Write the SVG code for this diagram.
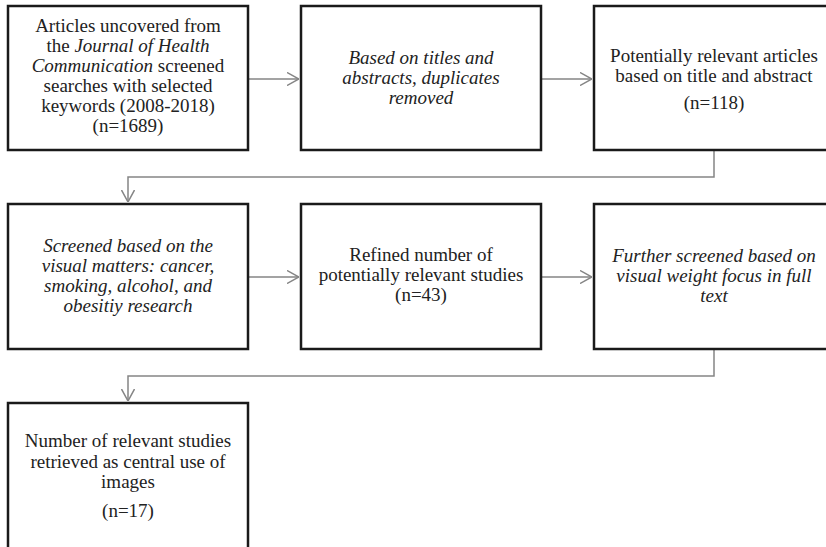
<svg xmlns="http://www.w3.org/2000/svg" width="826" height="547" viewBox="0 0 826 547">
<style>
  .box { fill: #ffffff; stroke: #1a1a1a; stroke-width: 2.5; }
  .t { font-family: "Liberation Serif", "Times New Roman", serif; font-size: 19px; fill: #222222; text-anchor: middle; }
  .i { font-style: italic; }
  .conn { fill: none; stroke: #858585; stroke-width: 1.5; }
</style>
<defs>
  <marker id="arr" viewBox="0 0 12 14" refX="12" refY="7" markerWidth="12" markerHeight="14" markerUnits="userSpaceOnUse" orient="auto">
    <path d="M0,0.5 L12,7 L0,13.5" fill="none" stroke="#858585" stroke-width="1.5"/>
  </marker>
</defs>
<rect width="826" height="547" fill="#ffffff"/>

<g id="connectors">
  <path class="conn" d="M248,79 H299" marker-end="url(#arr)"/>
  <path class="conn" d="M541,79 H592" marker-end="url(#arr)"/>
  <path class="conn" d="M714,150 V177 H128 V202" marker-end="url(#arr)"/>
  <path class="conn" d="M248,277 H299" marker-end="url(#arr)"/>
  <path class="conn" d="M541,277 H592" marker-end="url(#arr)"/>
  <path class="conn" d="M714,349 V376 H128 V401" marker-end="url(#arr)"/>
</g>

<g id="n1">
  <rect class="box" x="8" y="6" width="240" height="144"/>
  <text class="t" x="128" y="32">Articles uncovered from</text>
  <text class="t" x="128" y="52">the <tspan class="i">Journal of Health</tspan></text>
  <text class="t" x="128" y="72"><tspan class="i">Communication</tspan> screened</text>
  <text class="t" x="128" y="92">searches with selected</text>
  <text class="t" x="128" y="112">keywords (2008-2018)</text>
  <text class="t" x="128" y="132">(n=1689)</text>
</g>

<g id="n2">
  <rect class="box" x="301" y="6" width="240" height="144"/>
  <text class="t i" x="421" y="64">Based on titles and</text>
  <text class="t i" x="421" y="84">abstracts, duplicates</text>
  <text class="t i" x="421" y="104">removed</text>
</g>

<g id="n3">
  <rect class="box" x="594" y="6" width="240" height="144"/>
  <text class="t" x="714" y="62">Potentially relevant articles</text>
  <text class="t" x="714" y="82">based on title and abstract</text>
  <text class="t" x="714" y="109">(n=118)</text>
</g>

<g id="n4">
  <rect class="box" x="8" y="204" width="240" height="145"/>
  <text class="t i" x="128" y="252">Screened based on the</text>
  <text class="t i" x="128" y="272">visual matters: cancer,</text>
  <text class="t i" x="128" y="292">smoking, alcohol, and</text>
  <text class="t i" x="128" y="312">obesitiy research</text>
</g>

<g id="n5">
  <rect class="box" x="301" y="204" width="240" height="145"/>
  <text class="t" x="421" y="261">Refined number of</text>
  <text class="t" x="421" y="281">potentially relevant studies</text>
  <text class="t" x="421" y="301">(n=43)</text>
</g>

<g id="n6">
  <rect class="box" x="594" y="204" width="240" height="145"/>
  <text class="t i" x="714" y="262">Further screened based on</text>
  <text class="t i" x="714" y="282">visual weight focus in full</text>
  <text class="t i" x="714" y="302">text</text>
</g>

<g id="n7">
  <rect class="box" x="8" y="403" width="240" height="160"/>
  <text class="t" x="128" y="447">Number of relevant studies</text>
  <text class="t" x="128" y="468">retrieved as central use of</text>
  <text class="t" x="128" y="488">images</text>
  <text class="t" x="128" y="517">(n=17)</text>
</g>
</svg>
